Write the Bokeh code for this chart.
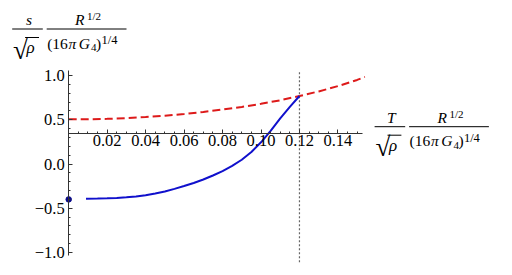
from bokeh.plotting import figure
from bokeh.models import Range1d, LinearAxis, FixedTicker
from bokeh.embed import file_html
from bokeh.resources import INLINE
from bokeh.core.properties import value

# ---------------- data ----------------
red_T = [0.0, 0.01, 0.02, 0.03, 0.04, 0.05, 0.06, 0.07, 0.08, 0.09, 0.10,
         0.11, 0.12, 0.13, 0.14, 0.15, 0.154]
red_s = [0.505, 0.506, 0.51, 0.518, 0.53, 0.546, 0.565, 0.588, 0.615, 0.645,
         0.68, 0.72, 0.768, 0.82, 0.88, 0.95, 0.985]

blue_T = [0.009, 0.015, 0.02, 0.025, 0.03, 0.035, 0.04, 0.045, 0.05, 0.055,
          0.06, 0.065, 0.07, 0.075, 0.08, 0.085, 0.09, 0.095, 0.10, 0.105,
          0.11, 0.115, 0.12]
blue_s = [-0.393, -0.391, -0.388, -0.383, -0.376, -0.366, -0.353, -0.334,
          -0.31, -0.281, -0.249, -0.214, -0.175, -0.13, -0.08, -0.022, 0.048,
          0.135, 0.245, 0.375, 0.515, 0.645, 0.768]

dot_T = [0.0]
dot_s = [-0.4]

T_c = 0.12  # transition temperature (dotted line)

x_ticks = [0.02, 0.04, 0.06, 0.08, 0.10, 0.12, 0.14]
x_tick_labels = ["0.02", "0.04", "0.06", "0.08", "0.10", "0.12", "0.14"]
x_minor = [0.005, 0.01, 0.015, 0.025, 0.03, 0.035, 0.045, 0.05, 0.055,
           0.065, 0.07, 0.075, 0.085, 0.09, 0.095, 0.105, 0.11, 0.115,
           0.125, 0.13, 0.135, 0.145, 0.15]
y_ticks = [-1.0, -0.5, 0.0, 0.5, 1.0]
y_tick_labels = ["\u22121.0", "\u22120.5", "0.0", "0.5", "1.0"]
y_minor = [-0.9, -0.8, -0.7, -0.6, -0.4, -0.3, -0.2, -0.1, 0.1, 0.2, 0.3,
           0.4, 0.6, 0.7, 0.8, 0.9]

x_axis_bounds = (0.0, 0.153)
y_axis_bounds = (-1.035, 1.055)
axes_origin = (0.0, 0.35)
plot_y_extent = (-1.11, 1.06)

# ---------------- layout helpers ----------------
W, H = 512, 275
X0, XS = 68.2, 1923.0
Y0, YS = 163.5, 88.5
BASELINE_SHIFT = 0.4  # em; rendered baseline sits this much below the anchor


def dx(px):
    return (px - X0) / XS


def dy(py):
    return (Y0 - py) / YS


FONT = "Liberation Serif"

p = figure(width=W, height=H, output_backend="svg", toolbar_location=None,
           x_range=Range1d(dx(0), dx(W)), y_range=Range1d(dy(H), dy(0)),
           x_axis_location=None, y_axis_location=None, min_border=0)
p.grid.grid_line_color = None
p.outline_line_color = None
p.background_fill_color = "white"
p.border_fill_color = "white"

axis_color = "#333333"

xaxis = LinearAxis(fixed_location=axes_origin[1], bounds=x_axis_bounds,
                   ticker=FixedTicker(ticks=x_ticks, minor_ticks=x_minor))
xaxis.major_label_overrides = dict(zip(x_ticks, x_tick_labels))
yaxis = LinearAxis(fixed_location=axes_origin[0], bounds=y_axis_bounds,
                   ticker=FixedTicker(ticks=y_ticks, minor_ticks=y_minor))
yaxis.major_label_overrides = dict(zip(y_ticks, y_tick_labels))
for ax in (xaxis, yaxis):
    ax.axis_line_color = axis_color
    ax.axis_line_width = 1
    ax.major_tick_line_color = axis_color
    ax.minor_tick_line_color = axis_color
    ax.major_tick_in = 4
    ax.major_tick_out = 0
    ax.minor_tick_in = 2
    ax.minor_tick_out = 0
    ax.major_label_text_font = FONT
    ax.major_label_text_font_size = "16.5px"
    ax.major_label_text_color = "black"
xaxis.major_label_standoff = 2
yaxis.major_label_standoff = 4
p.add_layout(xaxis, "below")
p.add_layout(yaxis, "left")

# dotted vertical line at T_c
p.segment(x0=[T_c], y0=[plot_y_extent[0]], x1=[T_c], y1=[plot_y_extent[1]],
          line_color="#666666", line_dash="2 2", line_width=1.2)

# curves
p.line(red_T, red_s, line_color="#dd1a1a", line_width=2, line_dash="8 4")
p.line(blue_T, blue_s, line_color="#1010cc", line_width=2)
p.scatter(dot_T, dot_s, size=5.5, color="#0a0a8a")


# ---------------- axis titles ----------------
def title(num, ox, oy):
    # fraction bars
    p.segment(x0=[dx(11.7 + ox), dx(46.2 + ox)], y0=[dy(28.5 + oy)] * 2,
              x1=[dx(42.3 + ox), dx(126.0 + ox)], y1=[dy(28.5 + oy)] * 2,
              line_color="black", line_width=1)
    # radical overline
    p.segment(x0=[dx(24.6 + ox)], y0=[dy(37.0 + oy)], x1=[dx(38.5 + ox)],
              y1=[dy(37.0 + oy)], line_color="black", line_width=1)
    pieces = [
        # text, left/center x, baseline y, font px, style, align
        (num, 28.5, 25.5, 15.5, "italic", "center"),
        ("\u221a", 12.5, 60.0, 27, "normal", "left"),
        ("\u03c1", 26.0, 54.0, 17, "italic", "left"),
        ("R", 74.5, 25.3, 15.5, "italic", "left"),
        ("1/2", 86.5, 19.7, 11, "normal", "left"),
        ("(16", 46.7, 48.7, 15.5, "normal", "left"),
        ("\u03c0", 68.0, 48.7, 15.5, "italic", "left"),
        ("G", 78.3, 48.7, 15.5, "italic", "left"),
        ("4", 90.5, 51.5, 11, "normal", "left"),
        (")", 95.5, 48.7, 15.5, "normal", "left"),
        ("1/4", 101.0, 44.3, 12.5, "normal", "left"),
    ]
    for txt, px, py, size, style, align in pieces:
        p.text(x=[dx(px + ox)], y=[dy(py + oy - BASELINE_SHIFT * size)],
               text=[txt], text_font=value(FONT),
               text_font_size="%.1fpx" % size, text_font_style=style,
               text_align=align, text_baseline="alphabetic",
               text_color="black")


title("s", 0.0, 0.0)
title("T", 362.4, 97.7)

open("out.html", "w").write(file_html(p, INLINE))
